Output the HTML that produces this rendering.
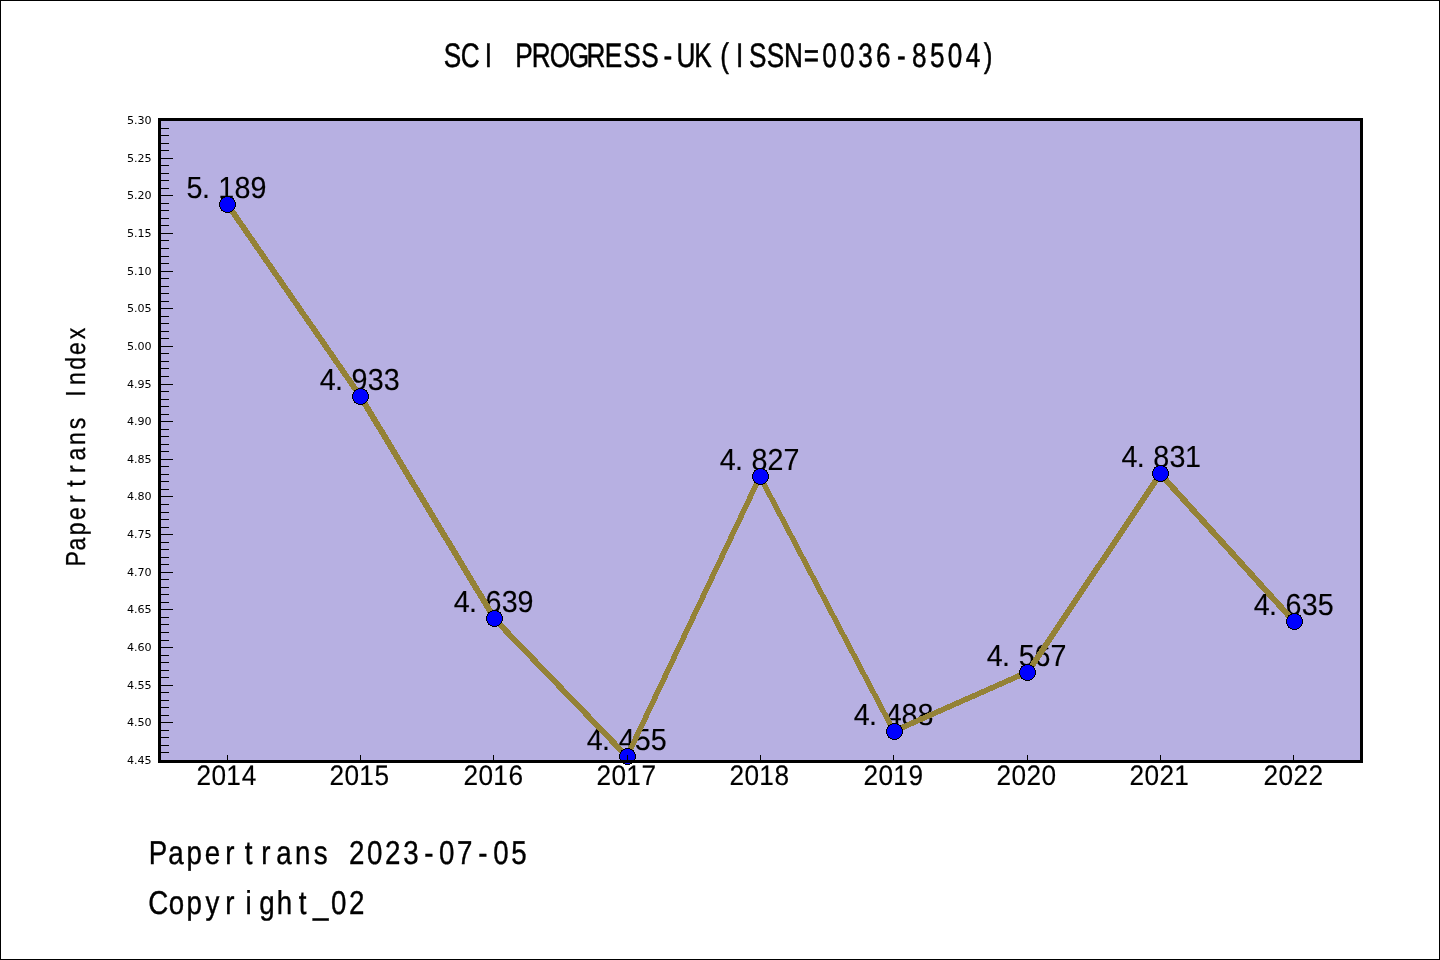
<!DOCTYPE html>
<html lang="en"><head><meta charset="utf-8"><title>SCI PROGRESS-UK(ISSN=0036-8504)</title>
<style>html,body{margin:0;padding:0;background:#fff;overflow:hidden}body{width:1440px;height:960px}svg{display:block}.m{font-family:"Liberation Sans", sans-serif;fill:#000;white-space:pre;text-rendering:geometricPrecision}.t{font-family:"DejaVu Sans", "Liberation Sans", sans-serif;fill:#000;font-size:11.11px;text-anchor:end}</style></head><body>
<svg width="1440" height="960" viewBox="0 0 1440 960" role="img" aria-label="SCI PROGRESS-UK(ISSN=0036-8504) line chart of Papertrans Index by year, 2014 to 2022">
<rect x="0" y="0" width="1440" height="960" fill="#fff"/>
<rect x="0.5" y="0.5" width="1439" height="959" fill="none" stroke="#000" stroke-width="1"/>
<rect x="160" y="120" width="1201" height="641" fill="#b7b0e2"/>
<g class="m">
<text transform="scale(0.94 1)" x="198.53 214.98 232.13 249.57 266.6" y="198" font-size="30.5" stroke="#000" stroke-width="0.15">5.189</text>
<text transform="scale(0.94 1)" x="340.12 356.5 374.07 391.18 408.2" y="390" font-size="30.5" stroke="#000" stroke-width="0.15">4.933</text>
<text transform="scale(0.94 1)" x="482.67 499.05 516.51 533.73 550.67" y="612" font-size="30.5" stroke="#000" stroke-width="0.15">4.639</text>
<text transform="scale(0.94 1)" x="624.16 640.54 658.2 675.16 692.18" y="750" font-size="30.5" stroke="#000" stroke-width="0.15">4.455</text>
<text transform="scale(0.94 1)" x="765.65 782.03 799.6 816.62 833.63" y="470" font-size="30.5" stroke="#000" stroke-width="0.15">4.827</text>
<text transform="scale(0.94 1)" x="908.2 924.59 942.25 959.17 976.19" y="725" font-size="30.5" stroke="#000" stroke-width="0.15">4.488</text>
<text transform="scale(0.94 1)" x="1049.69 1066.08 1083.67 1100.56 1117.67" y="666" font-size="30.5" stroke="#000" stroke-width="0.15">4.567</text>
<text transform="scale(0.94 1)" x="1192.99 1209.37 1226.94 1244.05 1260.56" y="467" font-size="30.5" stroke="#000" stroke-width="0.15">4.831</text>
<text transform="scale(0.94 1)" x="1333.74 1350.12 1367.58 1384.79 1401.75" y="615" font-size="30.5" stroke="#000" stroke-width="0.15">4.635</text>
</g>
<g fill="#948236" shape-rendering="crispEdges">
<polygon points="223.65,204 230.65,204 364.35,397 357.35,397"/>
<polygon points="356.7,396 363.7,396 498.3,619 491.3,619"/>
<polygon points="489.52,618 497.52,618 631.48,757 623.48,757"/>
<polygon points="757.24,476 763.24,476 629.76,757 623.76,757"/>
<polygon points="756.74,476 762.74,476 897.26,732 891.26,732"/>
<polygon points="894,728.22 1028,668.78 1028,674.78 894,734.22"/>
<polygon points="1157.33,473 1164.33,473 1030.67,673 1023.67,673"/>
<polygon points="1155.55,473 1163.55,473 1298.45,622 1290.45,622"/>
</g>
<g fill="#0000ff" stroke="#000" stroke-width="1" shape-rendering="crispEdges">
<circle cx="227.5" cy="204.5" r="8"/>
<circle cx="360.5" cy="396.5" r="8"/>
<circle cx="494.5" cy="618.5" r="8"/>
<circle cx="627.5" cy="756.5" r="8"/>
<circle cx="760.5" cy="476.5" r="8"/>
<circle cx="894.5" cy="731.5" r="8"/>
<circle cx="1027.5" cy="672.5" r="8"/>
<circle cx="1160.5" cy="473.5" r="8"/>
<circle cx="1294.5" cy="621.5" r="8"/>
</g>
<g fill="#000" shape-rendering="crispEdges">
<rect x="160" y="128" width="9" height="1"/>
<rect x="160" y="135" width="9" height="1"/>
<rect x="160" y="143" width="9" height="1"/>
<rect x="160" y="150" width="9" height="1"/>
<rect x="160" y="158" width="13" height="1"/>
<rect x="160" y="165" width="9" height="1"/>
<rect x="160" y="173" width="9" height="1"/>
<rect x="160" y="180" width="9" height="1"/>
<rect x="160" y="188" width="9" height="1"/>
<rect x="160" y="195" width="13" height="1"/>
<rect x="160" y="203" width="9" height="1"/>
<rect x="160" y="210" width="9" height="1"/>
<rect x="160" y="218" width="9" height="1"/>
<rect x="160" y="225" width="9" height="1"/>
<rect x="160" y="233" width="13" height="1"/>
<rect x="160" y="240" width="9" height="1"/>
<rect x="160" y="248" width="9" height="1"/>
<rect x="160" y="256" width="9" height="1"/>
<rect x="160" y="263" width="9" height="1"/>
<rect x="160" y="271" width="13" height="1"/>
<rect x="160" y="278" width="9" height="1"/>
<rect x="160" y="286" width="9" height="1"/>
<rect x="160" y="293" width="9" height="1"/>
<rect x="160" y="301" width="9" height="1"/>
<rect x="160" y="308" width="13" height="1"/>
<rect x="160" y="316" width="9" height="1"/>
<rect x="160" y="323" width="9" height="1"/>
<rect x="160" y="331" width="9" height="1"/>
<rect x="160" y="338" width="9" height="1"/>
<rect x="160" y="346" width="13" height="1"/>
<rect x="160" y="353" width="9" height="1"/>
<rect x="160" y="361" width="9" height="1"/>
<rect x="160" y="368" width="9" height="1"/>
<rect x="160" y="376" width="9" height="1"/>
<rect x="160" y="384" width="13" height="1"/>
<rect x="160" y="391" width="9" height="1"/>
<rect x="160" y="399" width="9" height="1"/>
<rect x="160" y="406" width="9" height="1"/>
<rect x="160" y="414" width="9" height="1"/>
<rect x="160" y="421" width="13" height="1"/>
<rect x="160" y="429" width="9" height="1"/>
<rect x="160" y="436" width="9" height="1"/>
<rect x="160" y="444" width="9" height="1"/>
<rect x="160" y="451" width="9" height="1"/>
<rect x="160" y="459" width="13" height="1"/>
<rect x="160" y="466" width="9" height="1"/>
<rect x="160" y="474" width="9" height="1"/>
<rect x="160" y="481" width="9" height="1"/>
<rect x="160" y="489" width="9" height="1"/>
<rect x="160" y="496" width="13" height="1"/>
<rect x="160" y="504" width="9" height="1"/>
<rect x="160" y="512" width="9" height="1"/>
<rect x="160" y="519" width="9" height="1"/>
<rect x="160" y="527" width="9" height="1"/>
<rect x="160" y="534" width="13" height="1"/>
<rect x="160" y="542" width="9" height="1"/>
<rect x="160" y="549" width="9" height="1"/>
<rect x="160" y="557" width="9" height="1"/>
<rect x="160" y="564" width="9" height="1"/>
<rect x="160" y="572" width="13" height="1"/>
<rect x="160" y="579" width="9" height="1"/>
<rect x="160" y="587" width="9" height="1"/>
<rect x="160" y="594" width="9" height="1"/>
<rect x="160" y="602" width="9" height="1"/>
<rect x="160" y="609" width="13" height="1"/>
<rect x="160" y="617" width="9" height="1"/>
<rect x="160" y="624" width="9" height="1"/>
<rect x="160" y="632" width="9" height="1"/>
<rect x="160" y="640" width="9" height="1"/>
<rect x="160" y="647" width="13" height="1"/>
<rect x="160" y="655" width="9" height="1"/>
<rect x="160" y="662" width="9" height="1"/>
<rect x="160" y="670" width="9" height="1"/>
<rect x="160" y="677" width="9" height="1"/>
<rect x="160" y="685" width="13" height="1"/>
<rect x="160" y="692" width="9" height="1"/>
<rect x="160" y="700" width="9" height="1"/>
<rect x="160" y="707" width="9" height="1"/>
<rect x="160" y="715" width="9" height="1"/>
<rect x="160" y="722" width="13" height="1"/>
<rect x="160" y="730" width="9" height="1"/>
<rect x="160" y="737" width="9" height="1"/>
<rect x="160" y="745" width="9" height="1"/>
<rect x="160" y="752" width="9" height="1"/>
<rect x="227" y="755" width="1" height="5"/>
<rect x="360" y="755" width="1" height="5"/>
<rect x="493" y="755" width="1" height="5"/>
<rect x="627" y="755" width="1" height="5"/>
<rect x="760" y="755" width="1" height="5"/>
<rect x="893" y="755" width="1" height="5"/>
<rect x="1027" y="755" width="1" height="5"/>
<rect x="1160" y="755" width="1" height="5"/>
<rect x="1293" y="755" width="1" height="5"/>
</g>
<rect x="159.5" y="119.5" width="1202" height="642" fill="none" stroke="#000" stroke-width="3" shape-rendering="crispEdges"/>
<g class="t">
<text x="151.7" y="124">5.30</text>
<text x="151.7" y="162">5.25</text>
<text x="151.7" y="199">5.20</text>
<text x="151.7" y="237">5.15</text>
<text x="151.7" y="275">5.10</text>
<text x="151.7" y="312">5.05</text>
<text x="151.7" y="350">5.00</text>
<text x="151.7" y="388">4.95</text>
<text x="151.7" y="425">4.90</text>
<text x="151.7" y="463">4.85</text>
<text x="151.7" y="500">4.80</text>
<text x="151.7" y="538">4.75</text>
<text x="151.7" y="576">4.70</text>
<text x="151.7" y="613">4.65</text>
<text x="151.7" y="651">4.60</text>
<text x="151.7" y="689">4.55</text>
<text x="151.7" y="726">4.50</text>
<text x="151.7" y="764">4.45</text>
</g>
<g class="m">
<text transform="scale(0.93 1)" x="211.34 227.47 243.22 259.82" y="785.4" font-size="28.2" stroke="#000" stroke-width="0.15">2014</text>
<text transform="scale(0.93 1)" x="354.36 370.48 386.23 402.77" y="785.4" font-size="28.2" stroke="#000" stroke-width="0.15">2015</text>
<text transform="scale(0.93 1)" x="498.44 514.57 530.31 546.73" y="785.4" font-size="28.2" stroke="#000" stroke-width="0.15">2016</text>
<text transform="scale(0.93 1)" x="641.45 657.58 673.32 689.83" y="785.4" font-size="28.2" stroke="#000" stroke-width="0.15">2017</text>
<text transform="scale(0.93 1)" x="784.46 800.59 816.34 832.85" y="785.4" font-size="28.2" stroke="#000" stroke-width="0.15">2018</text>
<text transform="scale(0.93 1)" x="928.55 944.68 960.42 976.94" y="785.4" font-size="28.2" stroke="#000" stroke-width="0.15">2019</text>
<text transform="scale(0.93 1)" x="1071.56 1087.69 1103.82 1119.95" y="785.4" font-size="28.2" stroke="#000" stroke-width="0.15">2020</text>
<text transform="scale(0.93 1)" x="1214.57 1230.7 1246.83 1262.57" y="785.4" font-size="28.2" stroke="#000" stroke-width="0.15">2021</text>
<text transform="scale(0.93 1)" x="1358.66 1374.79 1390.91 1407.04" y="785.4" font-size="28.2" stroke="#000" stroke-width="0.15">2022</text>
</g>
<g class="m">
<text transform="scale(0.77 1)" x="576.33 598.48 629.56 652.87 669.07 690.68 713.85 738.76 761.67 785.46 809.45 832.76 861.74 878.44 901.48 935.27 955.93 972.63 995.94 1018.3 1043.98 1067.75 1091.06 1114.48 1137.57 1164.79 1184.31 1207.66 1230.94 1254.35 1277.76" y="67.1" font-size="34" stroke="#000" stroke-width="0.5">SCI PROGRESS-UK(ISSN=0036-8504)</text>
<text transform="scale(0.84 1)" x="177.2 200.27 222.05 243.9 268.18 291.24 311.09 328.98 351.11 373.65 398.63 415.49 436.94 458.39 479.94 504.98 522.75 544.19 569.34 587.11 608.59" y="864.2" font-size="33" stroke="#000" stroke-width="0.4">Papertrans 2023-07-05</text>
<text transform="scale(0.84 1)" x="176.57 200.97 222.05 244.79 268.18 292.29 308.6 329.61 355.6 372.65 394.04 415.49" y="914" font-size="33" stroke="#000" stroke-width="0.4">Copyright_02</text>
<text transform="translate(84.7 558.5) rotate(-90) scale(0.84 1)" x="-9.57 9.63 27.76 45.95 66.16 85.36 101.88 116.77 135.19 153.95 174.75 192.61 206.62 224.8 242.38 260.98" y="0" font-size="27.5" stroke="#000" stroke-width="0.3">Papertrans Index</text>
</g>
</svg></body></html>
